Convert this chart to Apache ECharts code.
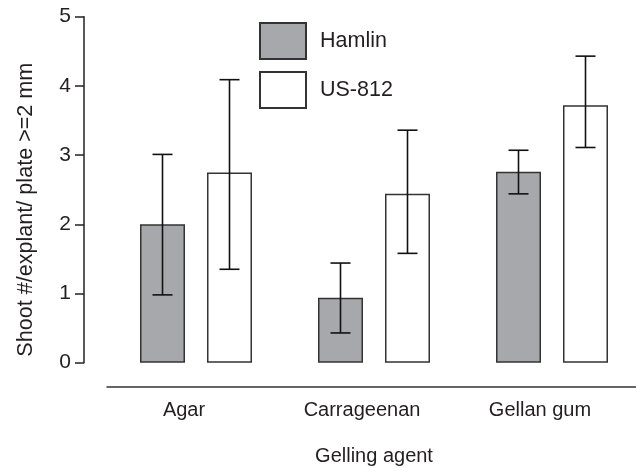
<!DOCTYPE html>
<html>
<head>
<meta charset="utf-8">
<script src="https://cdn.jsdelivr.net/npm/echarts@6/dist/echarts.min.js"></script>
<style>
html,body{margin:0;padding:0;background:#fff;}
#chart{width:636px;height:468px;}
</style>
</head>
<body>
<div id="chart"></div>
<script>
// ---- data ----
var categories = ['Agar', 'Carrageenan', 'Gellan gum'];
var seriesNames = ['Hamlin', 'US-812'];
var hamlinMean = [2.0, 0.94, 2.76];
var hamlinLow  = [0.98, 0.43, 2.44];
var hamlinHigh = [3.01, 1.44, 3.07];
var us812Mean  = [2.75, 2.44, 3.72];
var us812Low   = [1.35, 1.58, 3.11];
var us812High  = [4.09, 3.36, 4.43];
var yTicks = [0, 1, 2, 3, 4, 5];

// ---- styles ----
var FONT = 'Liberation Sans, Arial, Helvetica, sans-serif';
var TXT = '#231f20';
var BAR_W = 45;
var BAR_GAP_PX = 22;
var CAP_W = 20;

function errData(low, high) {
  return categories.map(function (c, i) { return [i, low[i], high[i]]; });
}
function errSeries(name, low, high, sign) {
  return {
    type: 'custom',
    name: name + ' error',
    data: errData(low, high),
    encode: { x: 0, y: [1, 2] },
    z: 5,
    silent: true,
    renderItem: function (params, api) {
      var idx = api.value(0);
      var lo = api.coord([idx, api.value(1)]);
      var hi = api.coord([idx, api.value(2)]);
      var x = lo[0] + sign * (BAR_W + BAR_GAP_PX) / 2;
      var st = { stroke: '#111', lineWidth: 1.6 };
      return {
        type: 'group',
        children: [
          { type: 'line', shape: { x1: x, y1: lo[1], x2: x, y2: hi[1] }, style: st },
          { type: 'line', shape: { x1: x - CAP_W / 2, y1: lo[1], x2: x + CAP_W / 2, y2: lo[1] }, style: st },
          { type: 'line', shape: { x1: x - CAP_W / 2, y1: hi[1], x2: x + CAP_W / 2, y2: hi[1] }, style: st }
        ]
      };
    }
  };
}

var chart = echarts.init(document.getElementById('chart'), null, { renderer: 'canvas' });
chart.setOption({
  backgroundColor: '#fff',
  animation: false,
  textStyle: { fontFamily: FONT, color: TXT },
  grid: { left: 107, top: 16.7, width: 534, height: 346, containLabel: false, outerBoundsMode: 'none' },
  legend: {
    data: seriesNames,
    orient: 'vertical',
    left: 259,
    top: 22,
    padding: 0,
    itemWidth: 46,
    itemHeight: 36,
    itemGap: 11,
    icon: 'rect',
    textStyle: { fontFamily: FONT, fontSize: 21.5, color: TXT, padding: [0, 0, 0, 9] }
  },
  xAxis: {
    type: 'category',
    data: categories,
    offset: 24,
    name: 'Gelling agent',
    nameLocation: 'middle',
    nameGap: 60,
    nameTextStyle: { fontFamily: FONT, fontSize: 20, color: TXT },
    axisLine: { onZero: false, lineStyle: { color: '#333', width: 1.5 } },
    axisTick: { show: false },
    axisLabel: { fontFamily: FONT, fontSize: 20, color: TXT, margin: 14, padding: [0, 24, 0, 0] },
    splitLine: { show: false }
  },
  yAxis: {
    type: 'value',
    min: 0,
    max: 5,
    interval: 1,
    offset: 23,
    name: 'Shoot #/explant/ plate >=2 mm',
    nameLocation: 'middle',
    nameGap: 47,
    nameTextStyle: { fontFamily: FONT, fontSize: 21.6, color: TXT, padding: [0, 40, 0, 0] },
    axisLine: { show: true, onZero: false, lineStyle: { color: '#222', width: 1.5 } },
    axisTick: { show: true, length: 9, lineStyle: { color: '#222', width: 1.5 } },
    axisLabel: {
      fontFamily: FONT, fontSize: 21, color: TXT, margin: 13,
      formatter: function (v) { return yTicks.indexOf(v) >= 0 ? String(v) : ''; }
    },
    splitLine: { show: false }
  },
  series: [
    {
      type: 'bar', name: seriesNames[0], data: hamlinMean,
      barWidth: BAR_W, barGap: (BAR_GAP_PX / BAR_W * 100) + '%',
      itemStyle: { color: '#a7a8ab', borderColor: '#333', borderWidth: 1.5 }
    },
    {
      type: 'bar', name: seriesNames[1], data: us812Mean,
      barWidth: BAR_W, barGap: (BAR_GAP_PX / BAR_W * 100) + '%',
      itemStyle: { color: '#ffffff', borderColor: '#333', borderWidth: 1.5 }
    },
    errSeries(seriesNames[0], hamlinLow, hamlinHigh, -1),
    errSeries(seriesNames[1], us812Low, us812High, 1)
  ]
});
</script>
</body>
</html>
